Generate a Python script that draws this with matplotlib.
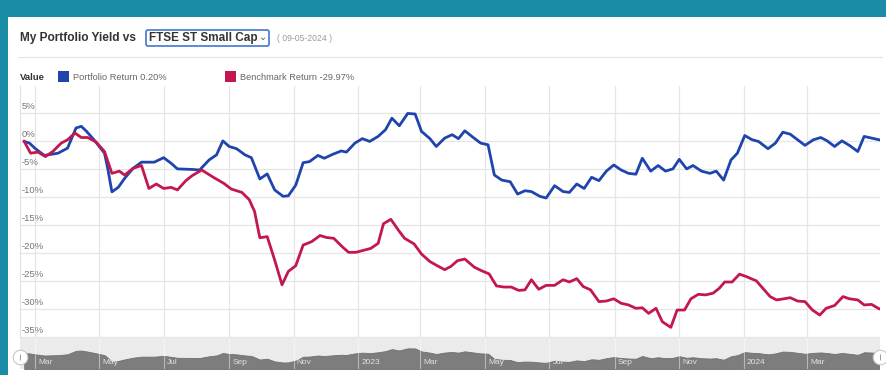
import matplotlib
matplotlib.use('Agg')
import matplotlib.pyplot as plt
from matplotlib.patches import Rectangle, FancyBboxPatch
import pandas as pd

plt.rcParams['font.family'] = ['Liberation Sans', 'DejaVu Sans']

# 数据
portfolio_dates = [
    '2022-02-19', '2022-02-24', '2022-03-01', '2022-03-10', '2022-03-23', '2022-04-01',
    '2022-04-09', '2022-04-14', '2022-04-19', '2022-04-26', '2022-05-06', '2022-05-09',
    '2022-05-13', '2022-05-19', '2022-05-25', '2022-06-02', '2022-06-10', '2022-06-22',
    '2022-07-01', '2022-07-08', '2022-07-14', '2022-07-28', '2022-08-04', '2022-08-13',
    '2022-08-20', '2022-08-26', '2022-09-01', '2022-09-08', '2022-09-16', '2022-09-22',
    '2022-09-30', '2022-10-07', '2022-10-14', '2022-10-22', '2022-10-27', '2022-11-03',
    '2022-11-10', '2022-11-16', '2022-11-24', '2022-11-30', '2022-12-08', '2022-12-16',
    '2022-12-21', '2022-12-29', '2023-01-05', '2023-01-12', '2023-01-20', '2023-01-27',
    '2023-02-02', '2023-02-09', '2023-02-17', '2023-02-24', '2023-03-02', '2023-03-10',
    '2023-03-16', '2023-03-24', '2023-03-31', '2023-04-06', '2023-04-12', '2023-04-20',
    '2023-04-27', '2023-05-04', '2023-05-10', '2023-05-17', '2023-05-25', '2023-06-01',
    '2023-06-08', '2023-06-14', '2023-06-22', '2023-06-28', '2023-07-06', '2023-07-14',
    '2023-07-20', '2023-07-27', '2023-08-03', '2023-08-10', '2023-08-17', '2023-08-24',
    '2023-08-31', '2023-09-07', '2023-09-14', '2023-09-21', '2023-09-27', '2023-10-05',
    '2023-10-12', '2023-10-19', '2023-10-26', '2023-11-01', '2023-11-08', '2023-11-14',
    '2023-11-22', '2023-11-30', '2023-12-06', '2023-12-13', '2023-12-20', '2023-12-26',
    '2024-01-02', '2024-01-09', '2024-01-15', '2024-01-24', '2024-01-31', '2024-02-07',
    '2024-02-14', '2024-02-21', '2024-02-28', '2024-03-07', '2024-03-14', '2024-03-20',
    '2024-03-27', '2024-04-03', '2024-04-10', '2024-04-18', '2024-04-24', '2024-05-01',
    '2024-05-08',
]
portfolio_values = [
    -0.1, -0.4, -1.3, -2.6, -2.2, -1.3,
    2.3, 2.6, 1.7, 0.2, -2.2, -4.9,
    -9.1, -8.3, -6.7, -4.9, -3.8, -3.8,
    -3.0, -4.0, -5.0, -5.1, -5.2, -3.4,
    -2.5, 0.0, -1.0, -1.4, -2.5, -3.0,
    -6.8, -5.9, -8.75, -9.9, -9.8, -7.9,
    -3.9, -3.7, -2.6, -3.1, -2.4, -1.8,
    -2.0, -0.4, 0.4, -0.1, 0.8, 2.0,
    4.05, 2.7, 4.9, 4.8, 1.7, 0.4,
    -1.0, 0.5, 1.1, 0.4, 1.8, 0.6,
    -0.4, -0.7, -6.1, -7.0, -7.3, -9.5,
    -8.9, -9.05, -9.9, -10.2, -8.0, -9.05,
    -9.2, -7.7, -8.5, -6.5, -7.1, -5.4,
    -4.3, -5.2, -5.8, -5.95, -3.1, -5.4,
    -4.4, -5.4, -5.0, -3.3, -5.0, -4.4,
    -5.4, -5.8, -5.4, -7.0, -3.4, -2.2,
    0.95, 0.2, -0.1, -1.4, -0.4, 1.55,
    1.2, 0.2, -0.8, 0.2, 0.6, 0.0,
    -1.0, 0.0, -0.8, -1.9, 0.8, 0.5,
    0.2,
]

benchmark_dates = [
    '2022-02-19', '2022-02-25', '2022-03-04', '2022-03-11', '2022-03-18', '2022-03-26',
    '2022-04-01', '2022-04-08', '2022-04-14', '2022-04-20', '2022-04-28', '2022-05-06',
    '2022-05-13', '2022-05-20', '2022-05-25', '2022-06-02', '2022-06-10', '2022-06-17',
    '2022-06-24', '2022-07-01', '2022-07-08', '2022-07-14', '2022-07-22', '2022-07-28',
    '2022-08-06', '2022-08-17', '2022-08-27', '2022-09-03', '2022-09-13', '2022-09-20',
    '2022-09-25', '2022-09-30', '2022-10-07', '2022-10-14', '2022-10-21', '2022-10-27',
    '2022-11-03', '2022-11-10', '2022-11-18', '2022-11-26', '2022-12-02', '2022-12-09',
    '2022-12-17', '2022-12-23', '2022-12-30', '2023-01-07', '2023-01-13', '2023-01-20',
    '2023-01-25', '2023-02-01', '2023-02-08', '2023-02-14', '2023-02-23', '2023-03-02',
    '2023-03-10', '2023-03-17', '2023-03-24', '2023-03-30', '2023-04-05', '2023-04-12',
    '2023-04-21', '2023-04-28', '2023-05-05', '2023-05-12', '2023-05-19', '2023-05-26',
    '2023-06-02', '2023-06-08', '2023-06-14', '2023-06-21', '2023-06-28', '2023-07-06',
    '2023-07-14', '2023-07-20', '2023-07-27', '2023-08-02', '2023-08-09', '2023-08-17',
    '2023-08-24', '2023-08-31', '2023-09-07', '2023-09-14', '2023-09-21', '2023-09-27',
    '2023-10-03', '2023-10-10', '2023-10-16', '2023-10-24', '2023-10-30', '2023-11-06',
    '2023-11-12', '2023-11-19', '2023-11-26', '2023-12-03', '2023-12-09', '2023-12-14',
    '2023-12-21', '2023-12-28', '2024-01-03', '2024-01-13', '2024-01-19', '2024-01-26',
    '2024-02-01', '2024-02-08', '2024-02-14', '2024-02-21', '2024-02-28', '2024-03-06',
    '2024-03-13', '2024-03-19', '2024-03-27', '2024-04-04', '2024-04-10', '2024-04-18',
    '2024-04-24', '2024-05-01', '2024-05-08',
]
benchmark_values = [
    -0.1, -2.2, -2.0, -2.8, -1.9, -0.4,
    0.2, 1.4, 0.6, 0.6, -0.2, -1.9,
    -5.8, -5.4, -6.1, -4.9, -4.4, -8.5,
    -7.7, -8.5, -8.3, -8.75, -7.1, -6.2,
    -5.2, -6.5, -7.6, -8.6, -9.2, -10.5,
    -12.6, -17.3, -17.1, -21.25, -25.7, -23.3,
    -22.3, -18.6, -18.0, -16.9, -17.25, -17.4,
    -18.9, -19.9, -19.9, -19.5, -19.2, -18.3,
    -14.8, -14.0, -15.9, -17.4, -18.4, -20.2,
    -21.55, -22.3, -23.0, -22.4, -21.4, -21.1,
    -22.55, -23.2, -23.75, -25.9, -26.1, -26.1,
    -26.7, -26.6, -24.8, -26.5, -25.8, -25.8,
    -24.8, -25.2, -24.6, -26.0, -26.6, -28.7,
    -28.6, -28.2, -29.0, -29.3, -29.9, -29.8,
    -30.8, -29.9, -32.3, -33.3, -30.2, -30.2,
    -28.2, -27.4, -27.5, -27.2, -26.3, -25.2,
    -25.2, -23.8, -24.2, -25.0, -26.3, -27.8,
    -28.4, -28.2, -28.0, -28.6, -28.7, -30.2,
    -31.1, -29.9, -29.4, -27.8, -28.2, -28.4,
    -29.3, -29.2, -29.97,
]

y_ticks = [5, 0, -5, -10, -15, -20, -25, -30, -35]
month_ticks = ['2022-03-01', '2022-05-01', '2022-07-01', '2022-09-01', '2022-11-01',
               '2023-01-01', '2023-03-01', '2023-05-01', '2023-07-01', '2023-09-01',
               '2023-11-01', '2024-01-01', '2024-03-01']
month_labels = ['Mar', 'May', 'Jul', 'Sep', 'Nov', '2023', 'Mar', 'May', 'Jul', 'Sep',
                'Nov', '2024', 'Mar']

pd_dates = pd.to_datetime(portfolio_dates)
bm_dates = pd.to_datetime(benchmark_dates)
tick_dates = pd.to_datetime(month_ticks)
x_range = (pd.Timestamp('2022-02-15'), pd.Timestamp('2024-05-09'))

blue = '#1f45ad'
red = '#c2174f'
W, H = 886, 375

fig = plt.figure(figsize=(W / 100, H / 100), dpi=100)
fig.patch.set_facecolor('#1a8ca6')

# 背景层（像素坐标）
bg = fig.add_axes([0, 0, 1, 1], zorder=0)
bg.set_xlim(0, W)
bg.set_ylim(H, 0)
bg.axis('off')
bg.add_patch(Rectangle((8, 17), W - 8, H - 17, facecolor='white', edgecolor='none'))

# 标题行
bg.text(20, 38, 'My Portfolio Yield vs', fontsize=8.6, fontweight='bold',
        color='#333333', va='center', ha='left')
bg.add_patch(FancyBboxPatch((146, 30), 123, 16, boxstyle='round,pad=0,rounding_size=2',
                            facecolor='white', edgecolor='#4f82d2', linewidth=1.3))
bg.text(149, 38.5, 'FTSE ST Small Cap', fontsize=8.5, fontweight='bold',
        color='#333333', va='center', ha='left')
bg.text(263, 37.5, '⌄', fontsize=7, color='#555555', va='center', ha='center',
        family=['DejaVu Sans'])
bg.text(277, 38.5, '( 09-05-2024 )', fontsize=6.2, color='#9a9a9a', va='center', ha='left')
bg.plot([18, 882], [57, 57], color='#e4e4e4', lw=0.8)

# 图例
bg.text(20, 77, 'Value', fontsize=6.8, fontweight='bold', color='#333333', va='center')
bg.add_patch(Rectangle((58, 71), 11, 11, facecolor=blue, edgecolor='none'))
bg.text(73, 77, 'Portfolio Return 0.20%', fontsize=6.7, color='#666666', va='center')
bg.add_patch(Rectangle((225, 71), 11, 11, facecolor=red, edgecolor='none'))
bg.text(240, 77, 'Benchmark Return -29.97%', fontsize=6.7, color='#666666', va='center')

# 主图
ax = fig.add_axes([20 / W, 1 - 338 / H, 860 / W, 252 / H], zorder=2)
ax.set_facecolor('white')
ax.plot(pd_dates, portfolio_values, color=blue, lw=2.0, solid_joinstyle='round', zorder=3)
ax.plot(bm_dates, benchmark_values, color=red, lw=2.0, solid_joinstyle='round', zorder=3)
ax.set_xlim(*x_range)
ax.set_ylim(-35.2, 9.8)
ax.set_yticks(y_ticks)
ax.set_xticks(tick_dates)
ax.grid(True, color='#e6e6e6', lw=0.9)
ax.tick_params(length=0, labelleft=False, labelbottom=False)
for s in ['top', 'right', 'bottom']:
    ax.spines[s].set_visible(False)
ax.spines['left'].set_color('#e0e0e0')
for v in y_ticks:
    ax.annotate(f'{v}%', xy=(0, v), xycoords=('axes fraction', 'data'),
                xytext=(1.2, 1.2), textcoords='offset points',
                fontsize=6.8, color='#777777', va='bottom', ha='left')

# 导航条
nav = fig.add_axes([20 / W, 1 - 369 / H, 860 / W, 31 / H], zorder=2)
nav.set_facecolor('#ebebeb')
nav.fill_between(pd_dates, portfolio_values, -16.7, color='#7d7d7d', lw=0.6,
                 edgecolor='#6f6f6f')
nav.set_xlim(*x_range)
nav.set_ylim(-16.7, 15.7)
for d, lab in zip(tick_dates, month_labels):
    nav.axvline(d, color='white', alpha=0.45, lw=0.8)
    nav.text(d + pd.Timedelta(days=3), 0.22, lab, transform=nav.get_xaxis_transform(),
             fontsize=6, color='#e2e2e2', va='center', ha='left')
nav.set_xticks([])
nav.set_yticks([])
for s in nav.spines.values():
    s.set_visible(False)
nav.scatter([0, 1], [0.4, 0.4], s=110, facecolor='white', edgecolor='#c8c8c8', lw=0.8,
            transform=nav.transAxes, clip_on=False, zorder=5)
nav.scatter([0, 1], [0.4, 0.4], s=14, marker='|', color='#999999', lw=0.7,
            transform=nav.transAxes, clip_on=False, zorder=6)

fig.savefig('out.png', dpi=100)
